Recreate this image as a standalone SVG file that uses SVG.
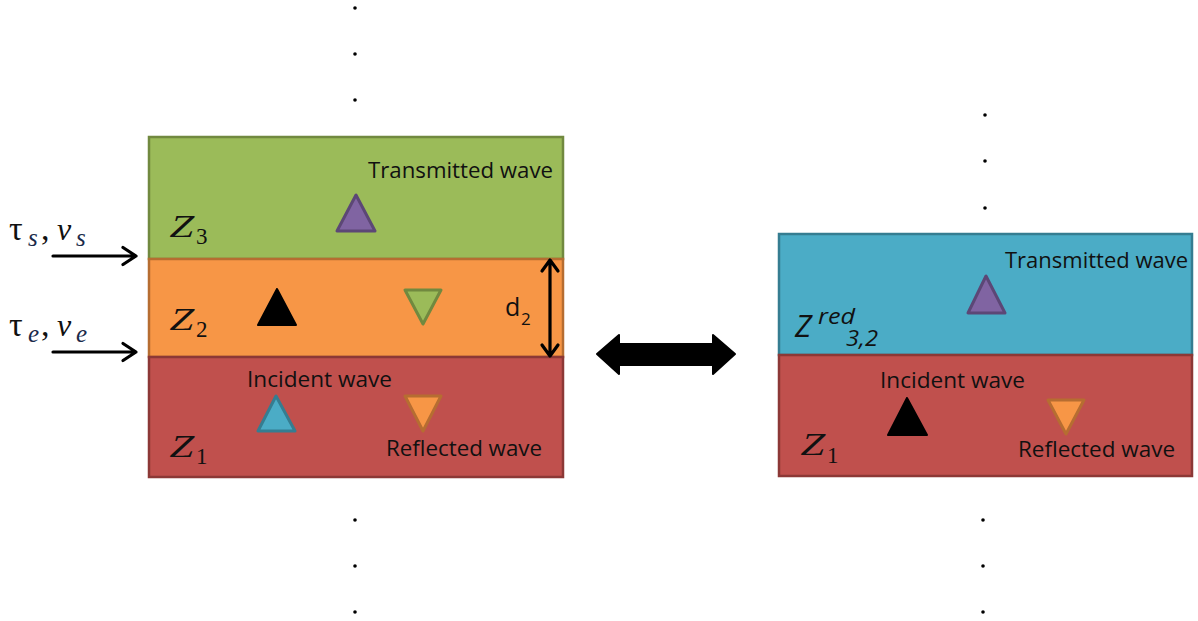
<svg xmlns="http://www.w3.org/2000/svg" width="1198" height="621" viewBox="0 0 1198 621">
<style>
.lbl{font-family:"Open Sans","Liberation Sans",sans-serif;font-size:22px;fill:#111}
.dl{font-family:"Open Sans","Liberation Sans",sans-serif;font-size:25px;fill:#111}
.ds{font-family:"Open Sans","Liberation Sans",sans-serif;font-size:17px;fill:#111}
.zm{font-family:"Liberation Serif",serif;font-size:32px;fill:#111}
.zs{font-family:"Liberation Serif",serif;font-size:23px;fill:#111}
.gr{font-family:"Liberation Serif",serif;font-size:34px;fill:#111}
.gi{font-family:"Liberation Serif",serif;font-style:italic;font-size:32px;fill:#111}
.gsub{font-family:"Liberation Serif",serif;font-style:italic;font-size:25px;fill:#1a2a4a}
.ar{fill:none;stroke:#000;stroke-width:3.2;stroke-linecap:round;stroke-linejoin:round}
.dot{fill:#000}
</style>
<rect width="1198" height="621" fill="#fff"/>

<g id="dots">
<circle class="dot" cx="355" cy="8" r="1.8"/><circle class="dot" cx="355" cy="54" r="1.8"/><circle class="dot" cx="355" cy="100" r="1.8"/>
<circle class="dot" cx="355" cy="520" r="1.8"/><circle class="dot" cx="355" cy="566" r="1.8"/><circle class="dot" cx="355" cy="612" r="1.8"/>
<circle class="dot" cx="985" cy="115" r="1.8"/><circle class="dot" cx="985" cy="161" r="1.8"/><circle class="dot" cx="985" cy="208" r="1.8"/>
<circle class="dot" cx="983" cy="520" r="1.8"/><circle class="dot" cx="983" cy="566" r="1.8"/><circle class="dot" cx="983" cy="612" r="1.8"/>
</g>

<g id="layer-z3">
<rect x="149" y="137" width="414" height="122" fill="#9BBB59" stroke="#71893F" stroke-width="2.5"/>
<text class="lbl" x="368" y="178" textLength="185" lengthAdjust="spacingAndGlyphs">Transmitted wave</text>
<text class="zm" transform="translate(168,237) skewX(-14)" textLength="25" lengthAdjust="spacingAndGlyphs">Z</text><text class="zs" x="196" y="244">3</text>
<polygon points="356,195 337,231 375,231" fill="#8064A2" stroke="#5C4776" stroke-width="3" stroke-linejoin="round"/>
</g>

<g id="layer-z2">
<rect x="149" y="259" width="414" height="98" fill="#F79646" stroke="#B66D31" stroke-width="2.5"/>
<text class="zm" transform="translate(168,330) skewX(-14)" textLength="25" lengthAdjust="spacingAndGlyphs">Z</text><text class="zs" x="196" y="337">2</text>
<polygon points="277,289 258,325 296,325" fill="#000" stroke="#000" stroke-width="2" stroke-linejoin="round"/>
<polygon points="405,290 441,290 423,324" fill="#9BBB59" stroke="#71893F" stroke-width="3" stroke-linejoin="round"/>
<text class="dl" x="505" y="316">d</text><text class="ds" x="521" y="325">2</text>
</g>

<g id="layer-z1-left">
<rect x="149" y="357" width="414" height="120" fill="#C0504D" stroke="#8C3836" stroke-width="2.5"/>
<text class="lbl" x="247" y="387" textLength="145" lengthAdjust="spacingAndGlyphs">Incident wave</text>
<text class="lbl" x="386" y="456" textLength="156" lengthAdjust="spacingAndGlyphs">Reflected wave</text>
<text class="zm" transform="translate(168,457) skewX(-14)" textLength="25" lengthAdjust="spacingAndGlyphs">Z</text><text class="zs" x="196" y="464">1</text>
<polygon points="276,396 258,431 295,431" fill="#4BACC6" stroke="#357D91" stroke-width="3" stroke-linejoin="round"/>
<polygon points="405,396 441,396 423,431" fill="#F79646" stroke="#B66D31" stroke-width="3" stroke-linejoin="round"/>
</g>

<g id="layer-zred">
<rect x="779" y="234" width="413" height="121" fill="#4BACC6" stroke="#357D91" stroke-width="2.5"/>
<text class="lbl" x="1005" y="268" textLength="183" lengthAdjust="spacingAndGlyphs">Transmitted wave</text>
<text x="795" y="337" style="font-family:'Open Sans','Liberation Sans',sans-serif;font-style:italic;font-size:31px;fill:#111">Z</text>
<text x="818" y="324" textLength="37" lengthAdjust="spacingAndGlyphs" style="font-family:'Open Sans','Liberation Sans',sans-serif;font-style:italic;font-size:21px;fill:#111">red</text>
<text x="846" y="346" textLength="32" lengthAdjust="spacingAndGlyphs" style="font-family:'Open Sans','Liberation Sans',sans-serif;font-style:italic;font-size:21px;fill:#111">3,2</text>
<polygon points="986,276 968,313 1005,313" fill="#8064A2" stroke="#5C4776" stroke-width="3" stroke-linejoin="round"/>
</g>

<g id="layer-z1-right">
<rect x="779" y="355" width="413" height="121" fill="#C0504D" stroke="#8C3836" stroke-width="2.5"/>
<text class="lbl" x="880" y="388" textLength="145" lengthAdjust="spacingAndGlyphs">Incident wave</text>
<text class="lbl" x="1018" y="457" textLength="157" lengthAdjust="spacingAndGlyphs">Reflected wave</text>
<text class="zm" transform="translate(799,455) skewX(-14)" textLength="25" lengthAdjust="spacingAndGlyphs">Z</text><text class="zs" x="827" y="463">1</text>
<polygon points="907,398 888,435 927,435" fill="#000" stroke="#000" stroke-width="2" stroke-linejoin="round"/>
<polygon points="1048,400 1084,400 1066,434" fill="#F79646" stroke="#B66D31" stroke-width="3" stroke-linejoin="round"/>
</g>

<g id="label-s">
<text class="gr" x="9" y="240">τ</text><text class="gsub" x="28" y="246">s</text>
<text class="gr" x="41" y="240">,</text>
<text class="gi" x="57" y="240">v</text><text class="gsub" x="76" y="246">s</text>
</g>
<g id="label-e">
<text class="gr" x="9" y="336">τ</text><text class="gsub" x="28" y="342">e</text>
<text class="gr" x="41" y="336">,</text>
<text class="gi" x="57" y="336">v</text><text class="gsub" x="76" y="342">e</text>
</g>

<g id="connectors">
<path class="ar" d="M53,256 H135 M123,247.5 L136,256 L123,264.5"/>
<path class="ar" d="M53,352 H135 M123,343.5 L136,352 L123,360.5"/>
<path class="ar" d="M550,261 V355 M542,271 L550,260 L558,271 M542,345 L550,356 L558,345"/>
<polygon points="597,354 619,335 619,344 713,344 713,335 735,354 713,374 713,365 619,365 619,374" fill="#000" stroke="#000" stroke-width="2" stroke-linejoin="round"/>
</g>
</svg>
